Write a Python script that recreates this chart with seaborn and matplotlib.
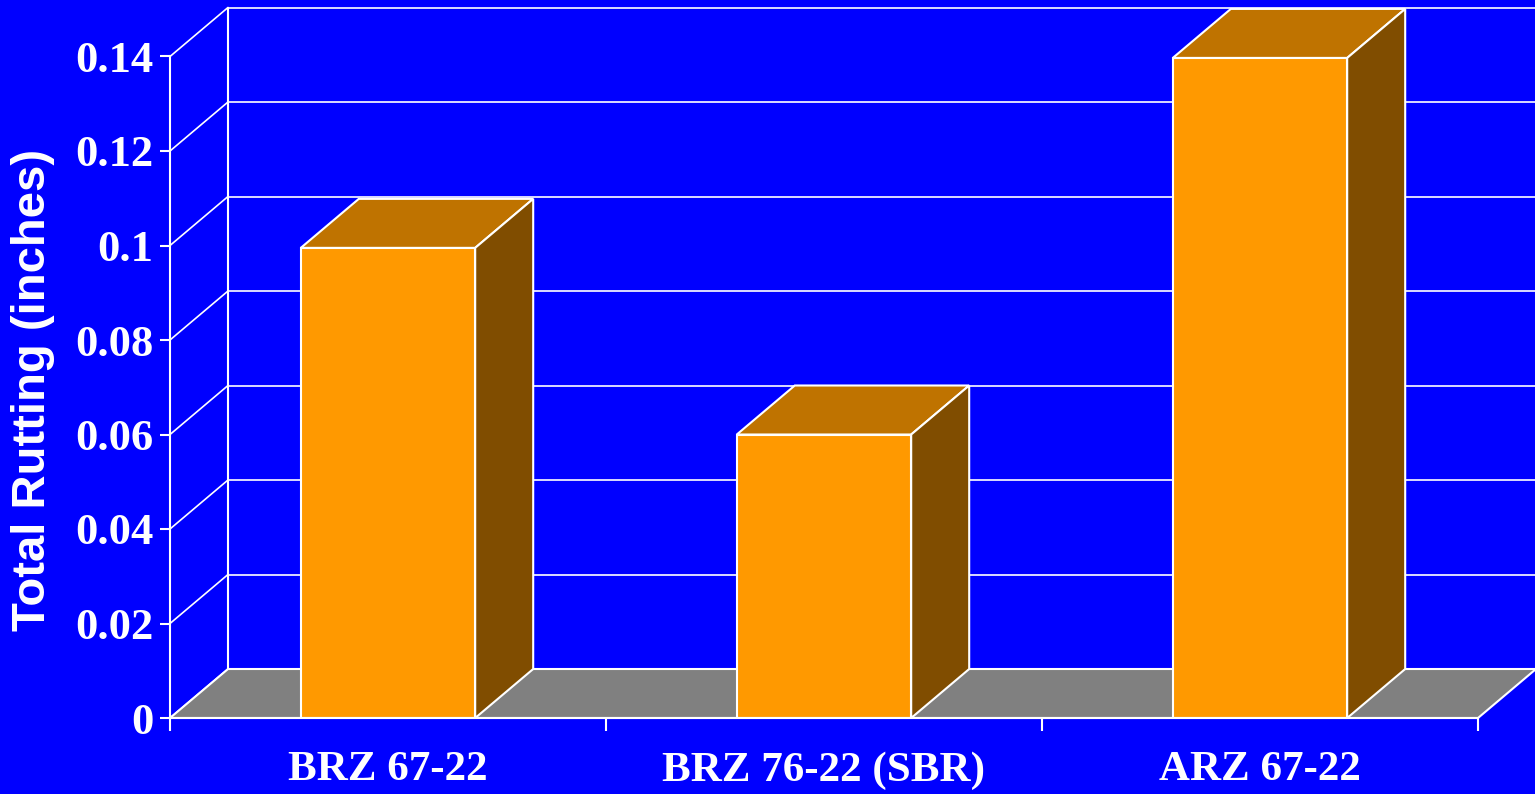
import matplotlib
matplotlib.use("Agg")
import matplotlib.pyplot as plt
from matplotlib.patches import Polygon
import seaborn as sns

# data
categories = ["BRZ 67-22", "BRZ 76-22 (SBR)", "ARZ 67-22"]
rutting = [0.0995, 0.0600, 0.1397]
yticks = [0, 0.02, 0.04, 0.06, 0.08, 0.10, 0.12, 0.14]
ytick_labels = ["0", "0.02", "0.04", "0.06", "0.08", "0.1", "0.12", "0.14"]

BLUE = "#0000FF"
FRONT = "#FF9900"
TOP = "#BF7300"
SIDE = "#804D00"
FLOOR = "#808080"

sns.set_style("white")

fig = plt.figure(figsize=(15.35, 7.94), dpi=100, facecolor=BLUE)
ax = fig.add_axes([170 / 1535, 76 / 794, 1308 / 1535, 661.5 / 794])
ax.set_facecolor(BLUE)

sns.barplot(x=categories, y=rutting, width=0.4, color=FRONT, saturation=1,
            edgecolor="white", linewidth=1.5, ax=ax, zorder=3)

ax.set_xlim(-0.5, 2.5)
ax.set_ylim(0, 0.14)

# depth offset of the fake 3d (data units)
dx = 58 / 1308 * 3
dy = 49 / 4725

x0, x1 = -0.5, 2.5

# back wall grid + left wall diagonals
for t in yticks:
    ax.plot([x0 + dx, x1 + dx], [t + dy, t + dy], color="white", lw=1.2,
            zorder=1, clip_on=False)
    ax.plot([x0, x0 + dx], [t, t + dy], color="white", lw=1.2,
            zorder=1, clip_on=False)
ax.plot([x0 + dx, x0 + dx], [dy, 0.14 + dy], color="white", lw=1.5,
        zorder=1, clip_on=False)

# floor
floor = Polygon([[x0, 0], [x1, 0], [x1 + dx, dy], [x0 + dx, dy]], closed=True,
                facecolor=FLOOR, edgecolor="white", lw=1.5, zorder=2, clip_on=False)
ax.add_patch(floor)

# top and side faces of the bars
for p in list(ax.patches):
    if p is floor:
        continue
    bx = p.get_x()
    bw = p.get_width()
    h = p.get_height()
    top = Polygon([[bx, h], [bx + bw, h], [bx + bw + dx, h + dy], [bx + dx, h + dy]],
                  closed=True, facecolor=TOP, edgecolor="white", lw=1.5,
                  zorder=3, clip_on=False)
    side = Polygon([[bx + bw, 0], [bx + bw + dx, dy], [bx + bw + dx, h + dy], [bx + bw, h]],
                   closed=True, facecolor=SIDE, edgecolor="white", lw=1.5,
                   zorder=3, clip_on=False)
    ax.add_patch(top)
    ax.add_patch(side)

# axes and ticks
for s in ["top", "right"]:
    ax.spines[s].set_visible(False)
for s in ["left", "bottom"]:
    ax.spines[s].set_color("white")
    ax.spines[s].set_linewidth(1.5)
    ax.spines[s].set_zorder(4)

ax.set_yticks(yticks)
ax.set_yticklabels(ytick_labels, fontfamily="Liberation Serif", fontweight="bold",
                   fontsize=32, color="white")
ax.tick_params(axis="y", length=7, width=1.5, color="white", pad=5, left=True)

ax.set_xticks([0, 1, 2])
ax.set_xticklabels(categories, fontfamily="Liberation Serif", fontweight="bold",
                   fontsize=31, color="white")
ax.set_xticks([-0.5, 0.5, 1.5, 2.5], minor=True)
ax.tick_params(axis="x", which="major", length=0, pad=24)
ax.tick_params(axis="x", which="minor", length=9, width=1.5, color="white", bottom=True)

ax.set_xlabel("")
ax.grid(False)

# y title, placed by its centre
fig.text(33 / 1535, 1 - 390 / 794, "Total Rutting (inches)", rotation=90,
         ha="center", va="center", fontfamily="Liberation Sans", fontweight="bold",
         fontsize=34, color="white")

fig.savefig("out.png", dpi=100, facecolor=BLUE)
